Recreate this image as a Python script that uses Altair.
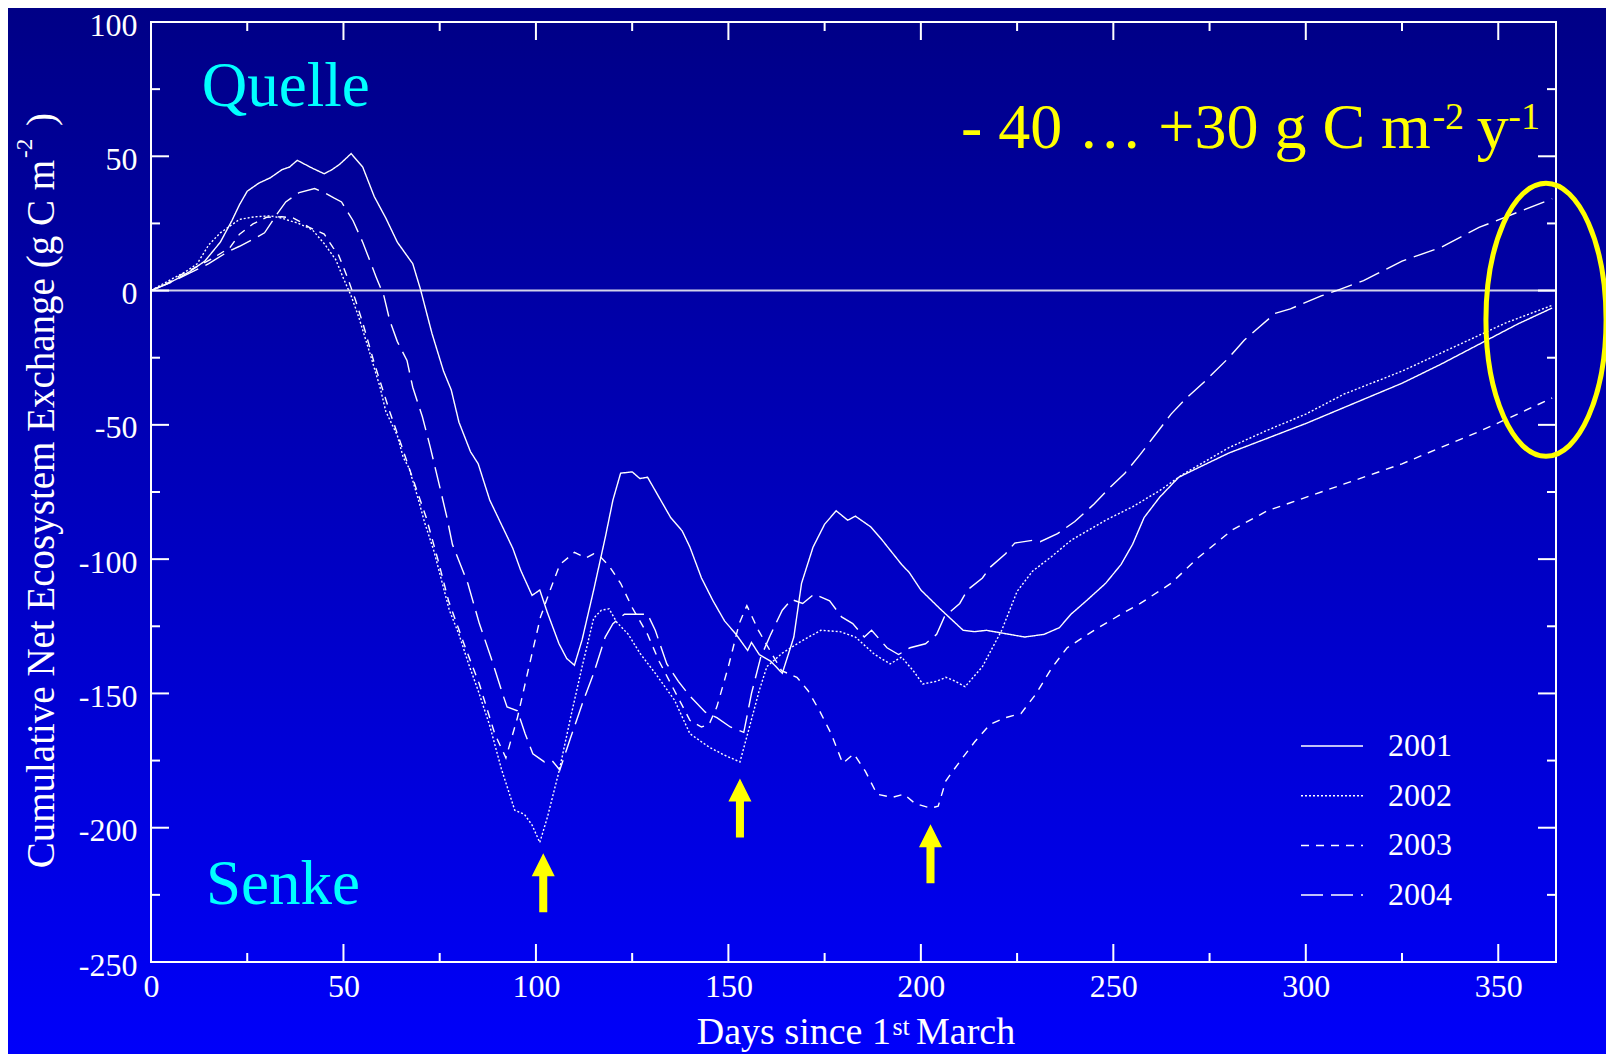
import altair as alt
import pandas as pd

# ---------------- data ----------------
years = ["2001", "2002", "2003", "2004"]

nee_2001 = [(0,0),(5,3),(10,7),(14,11),(18,18),(21,26),(23,32),(25,37),(28,40),(31,42),(34,45),(36,46),
            (38,48.5),(40,47),(42,45.5),(45,43.5),(47,45),(49,47),(52,51),(55,46),(58,35),(61,27),(64,18),
            (66,14),(68,10),(70,0.5),(73,-16),(76,-30),(78,-37),(80,-49),(83,-60),(85,-64.5),(88,-78),
            (91,-87),(94,-96),(96,-104),(99,-113.5),(101,-111.5),(103,-120),(106,-131.5),(108,-137),
            (110,-139.5),(112,-130),(115,-111.5),(118,-92),(120,-78),(122,-68),(125,-67.5),(127,-70),
            (129,-69.5),(131,-74.5),(135,-84.5),(138,-89.5),(140,-95.5),(143,-107),(146,-115.5),(149,-123),
            (152,-128),(155,-134),(156,-131),(158,-135.5),(161,-138),(164,-142.5),(167,-129),(169,-109),
            (172,-95.5),(175,-87),(178,-82),(181,-85.5),(183,-84),(187,-88),(190,-93),(195,-102),(197,-105),
            (200,-111.5),(205,-118.5),(208,-122.5),(211,-126.5),(214,-127),(217,-126.5),(221,-127.5),
            (227,-129),(232,-128),(236,-125.5),(239,-120.5),(243,-115.5),(248,-109),(252,-102),(255,-94.5),
            (258,-84.5),(262,-77),(267,-69.5),(272,-66),(280,-60.5),(290,-55),(300,-49.5),(310,-43.5),
            (325,-34.5),(335,-27.5),(345,-20),(355,-12.5),(364,-6.5)]

nee_2002 = [(0,0),(5,4),(9,7),(12,10),(15,17),(18,21.5),(20,23.5),(23,26.5),(27,27.5),(31,27.8),(34,27),
            (36,26),(38,25.2),(40.5,23.6),(42,22.5),(45,17.5),(48,11.5),(50,4.5),(52,-2),(54,-10),(57,-24),
            (59.5,-36),(61,-45),(64,-54),(65.5,-62),(67,-66),(69.5,-78),(71,-86),(73.5,-97),(75.5,-108),
            (77.5,-119),(80,-128),(82.5,-139),(85,-149),(88,-162),(91,-178),(94.5,-193.5),(97,-195),
            (99,-199),(101,-205.5),(103,-196),(106,-179),(109,-159),(112,-140),(115,-122),(117,-119),
            (119,-118.5),(121,-123.5),(124,-128),(127,-135),(131,-142.5),(136,-152.5),(140,-165),(145,-170),
            (149,-173),(153,-175.5),(155,-165),(158,-149),(160,-140),(164,-135),(169,-130.5),(174,-126.5),
            (179,-127),(183,-129),(188,-135.5),(192,-139),(195,-136.5),(198,-141.5),(200.5,-146.5),
            (204,-145.5),(206.5,-144),(209,-145.5),(211.5,-147.5),(216,-140),(221,-126.5),(225,-112),
            (229,-104.5),(234,-99),(239,-93),(248,-85.5),(255,-80.5),(262,-74.5),(268,-68.5),(280,-58.5),
            (290,-52),(300,-46),(310,-38.5),(325,-30),(340,-20),(352,-12),(364,-5.5)]

nee_2003 = [(0,0),(4,2.5),(8,6),(12,9),(16,12),(20.5,16),(23,21),(26.5,24.8),(30,27.3),(34,27.5),(37,27),
            (39.5,25),(41,23.6),(45,21),(47.3,16),(48.6,13.7),(51,5),(53,-3),(55,-12),(58,-27),(60,-36),
            (62,-45),(65.5,-59.5),(68,-70),(71.5,-84.5),(74.5,-100),(77.3,-115.5),(81.3,-131.5),
            (85.3,-146.5),(89.3,-165),(92.2,-174),(95.2,-159),(98.2,-140),(101.2,-121.5),(103.7,-111.5),
            (106.2,-102),(110,-97.5),(113,-99.5),(115,-98),(117,-99.5),(119,-102.5),(122,-109),(125,-118),
            (129,-128),(132,-138),(136,-149),(140,-160),(143,-162.5),(145,-161.5),(147,-155),(150,-140),
            (152.8,-124),(154.8,-117.3),(157.8,-126.5),(160.8,-134),(163.8,-141.5),(167.8,-144),
            (170.7,-149),(173.7,-156.5),(176.7,-165),(179.7,-176),(182.6,-172.5),(185.6,-179),
            (188.6,-187.5),(192.6,-188.7),(195.6,-187.5),(198.5,-191),(202.5,-192.7),(204.5,-192),
            (206.5,-182.5),(210.3,-175),(214,-168),(218,-161.5),(222,-159),(226,-157.5),(230,-150),
            (234,-140.5),(238,-133),(245,-126.5),(252,-120.5),(257,-116.5),(265,-109),(272,-99.5),
            (281,-89),(290,-82),(300,-77),(310,-72),(325,-64.5),(335,-58.5),(345,-52.5),(355,-46),(364,-40)]

nee_2004 = [(0,0),(5,3),(10,6.5),(15,10),(20,14.5),(23,16.5),(27,19.5),(29.5,21.5),(32.5,28),(35,33),
            (38.5,36.5),(42.5,38),(45,36.5),(47.5,34.5),(49.5,33),(52.5,26),(55,18),(58.5,5),(60.5,-2),
            (62,-11),(64,-19),(66.5,-26),(68,-36),(70.5,-47),(72.5,-58),(75,-73),(76.8,-84),(78.3,-94.5),
            (82.3,-109),(85.3,-124),(88.3,-136.5),(91.3,-150),(92.5,-155),(95.2,-156.5),(97.2,-165),
            (99.2,-172.5),(102.2,-175.5),(104.2,-175),(106.2,-178.5),(109,-166.5),(112,-154),(115,-142.5),
            (118,-129),(120,-124),(123,-120.5),(126,-120.5),(129,-120.5),(131,-126.5),(134,-139),
            (137,-145.5),(140,-151),(144,-157),(147,-159),(150.5,-162.5),(154,-164.5),(156,-150),
            (158.4,-136.5),(161,-128),(164,-119),(166.4,-115),(169.3,-116.5),(172.3,-113),(176.3,-115.5),
            (179.4,-121.5),(182.3,-124),(185.3,-129),(187.2,-126.5),(191.2,-133),(194.2,-135.5),
            (197.2,-133),(201.2,-131.5),(204.1,-128),(206.1,-121.5),(210.1,-116.5),(212.1,-111.5),
            (216,-107),(218,-103),(222,-98),(224.4,-94),(229,-93),(231,-93.5),(235.5,-90.5),(240,-86),
            (245,-79.5),(249,-73.5),(253,-68),(257,-61),(261,-53.5),(265,-46),(269,-40),(274,-33.5),
            (280,-25),(284,-18.5),(288,-13.5),(292,-8.5),(296,-6.8),(304,-2),(308,0),(315,3.7),(325,11),
            (335,16),(345,23.5),(364,34.2)]

x_major = [0, 50, 100, 150, 200, 250, 300, 350]
x_minor = [25, 75, 125, 175, 225, 275, 325]
y_major = [-250, -200, -150, -100, -50, 0, 50, 100]
y_minor = [-225, -175, -125, -75, -25, 25, 75]

zone_labels = ["Quelle", "Senke"]
zone_days = [13.2, 14.3]
zone_vals = [68.9, -228.3]

arrow_days = [101.9, 153.0, 202.5]
arrow_vals = [-220.5, -192.7, -209.7]

ellipse_day = [362.4]
ellipse_val = [-10.9]

rate_main = ["- 40 \u2026 +30 g C m"]
rate_main_day = [332.5]
rate_main_val = [52.9]
rate_sup = ["-2", "-1"]
rate_sup_day = [332.9, 352.6]
rate_sup_val = [60.3, 60.3]
rate_y = ["y"]
rate_y_day = [344.4]
rate_y_val = [52.9]

# ---------------- build ----------------
W, H = 1405, 940
PAD = {"left": 143, "top": 14, "right": 50, "bottom": 92}
FONT = "Liberation Serif"

series = {"2001": nee_2001, "2002": nee_2002, "2003": nee_2003, "2004": nee_2004}
df = pd.DataFrame([{"day": d, "nee": v, "year": yr} for yr, pts in series.items() for d, v in pts])

x_scale = alt.Scale(domain=[0, 365], nice=False, zero=False)
y_scale = alt.Scale(domain=[-250, 100], nice=False, zero=False)

x_axis = alt.Axis(values=x_major, title=None, domain=False, ticks=False, tickSize=0, grid=False,
                  labelFont=FONT, labelFontSize=32, labelColor="white", labelPadding=9,
                  labelOverlap=False, labelFlush=False, zindex=1)
y_axis = alt.Axis(values=y_major, title=None, domain=False, ticks=False, tickSize=0, grid=False,
                  labelFont=FONT, labelFontSize=32, labelColor="white", labelPadding=14,
                  labelOffset=3, labelOverlap=False, labelFlush=False, zindex=1,
                  labelExpr="'' + datum.value")


def X(field):
    return alt.X(field, type="quantitative", scale=x_scale, axis=x_axis)


def Y(field):
    return alt.Y(field, type="quantitative", scale=y_scale, axis=y_axis)


one = alt.Data(values=[{"a": 1}])

bg = alt.Chart(one).mark_rect(
    fill=alt.LinearGradient(gradient="linear", x1=0, y1=0, x2=0, y2=1,
                            stops=[alt.GradientStop(color="#000086", offset=0),
                                   alt.GradientStop(color="#0000fa", offset=1)]),
    strokeWidth=0,
).encode(x=alt.value(-PAD["left"]), x2=alt.value(W + PAD["right"]),
         y=alt.value(-PAD["top"]), y2=alt.value(H + PAD["bottom"]))

zero = alt.Chart(alt.Data(values=[{"z": 0}])).mark_rule(color="#d2d2ea", strokeWidth=2).encode(
    y=Y("z"), x=alt.value(0), x2=alt.value(W))

lines = alt.Chart(df).mark_line(color="white", strokeWidth=1.4, strokeCap="butt").encode(
    x=X("day"), y=Y("nee"),
    strokeDash=alt.StrokeDash(
        "year:N",
        scale=alt.Scale(domain=years, range=[[1, 0], [2, 2], [8, 7], [22, 8]]),
        legend=alt.Legend(orient="none", legendX=1149, legendY=704, title=None, padding=0,
                          symbolType="stroke", symbolSize=3844, symbolStrokeWidth=1.5,
                          symbolStrokeColor="white", labelFont=FONT, labelFontSize=32,
                          labelColor="white", labelOffset=24, clipHeight=40, rowPadding=9.7,
                          zindex=2),
    ),
)

ticks = []
for vals, ln in ((x_major, 18), (x_minor, 9)):
    d = alt.Data(values=[{"t": v} for v in vals])
    ticks.append(alt.Chart(d).mark_rule(color="white", strokeWidth=2).encode(
        x=X("t"), y=alt.value(H), y2=alt.value(H - ln)))
    ticks.append(alt.Chart(d).mark_rule(color="white", strokeWidth=2).encode(
        x=X("t"), y=alt.value(0), y2=alt.value(ln)))
for vals, ln in ((y_major, 18), (y_minor, 9)):
    d = alt.Data(values=[{"t": v} for v in vals])
    ticks.append(alt.Chart(d).mark_rule(color="white", strokeWidth=2).encode(
        y=Y("t"), x=alt.value(0), x2=alt.value(ln)))
    ticks.append(alt.Chart(d).mark_rule(color="white", strokeWidth=2).encode(
        y=Y("t"), x=alt.value(W), x2=alt.value(W - ln)))

frame = alt.Chart(one).mark_rect(fillOpacity=0, stroke="white", strokeWidth=2).encode(
    x=alt.value(0), x2=alt.value(W), y=alt.value(0), y2=alt.value(H))

zones = alt.Chart(pd.DataFrame({"label": zone_labels, "day": zone_days, "nee": zone_vals})).mark_text(
    align="left", baseline="alphabetic", font=FONT, fontSize=63, color="#00ffff").encode(
    x=X("day"), y=Y("nee"), text="label:N")

rate1 = alt.Chart(pd.DataFrame({"s": rate_main, "day": rate_main_day, "nee": rate_main_val})).mark_text(
    align="right", baseline="alphabetic", font=FONT, fontSize=64, color="#ffff00").encode(
    x=X("day"), y=Y("nee"), text="s:N")
rate2 = alt.Chart(pd.DataFrame({"s": rate_sup, "day": rate_sup_day, "nee": rate_sup_val})).mark_text(
    align="left", baseline="alphabetic", font=FONT, fontSize=38, color="#ffff00").encode(
    x=X("day"), y=Y("nee"), text="s:N")
rate3 = alt.Chart(pd.DataFrame({"s": rate_y, "day": rate_y_day, "nee": rate_y_val})).mark_text(
    align="left", baseline="alphabetic", font=FONT, fontSize=64, color="#ffff00").encode(
    x=X("day"), y=Y("nee"), text="s:N")

ARROW = "M0,-1L0.39,-0.22L0.136,-0.22L0.136,1L-0.136,1L-0.136,-0.22L-0.39,-0.22Z"
arrows = alt.Chart(pd.DataFrame({"day": arrow_days, "nee": arrow_vals})).mark_point(
    shape=ARROW, size=3481, filled=True, color="#ffff00", opacity=1, strokeWidth=0).encode(
    x=X("day"), y=Y("nee"))

k = 0.44
c = round(k * 0.5523, 4)
ELLIPSE = (f"M0,-1C{c},-1 {k},-0.5523 {k},0C{k},0.5523 {c},1 0,1"
           f"C{-c},1 {-k},0.5523 {-k},0C{-k},-0.5523 {-c},-1 0,-1Z")
ellipse = alt.Chart(pd.DataFrame({"day": ellipse_day, "nee": ellipse_val})).mark_point(
    shape=ELLIPSE, size=273 * 273, filled=False, color="#ffff00", strokeWidth=5, opacity=1).encode(
    x=X("day"), y=Y("nee"))

# axis titles (with superscripts) placed outside the plot area
ytitle_main = alt.Chart(one).mark_text(
    text="Cumulative Net Ecosystem Exchange (g C m", angle=270, align="right", baseline="alphabetic",
    font=FONT, fontSize=39, color="white").encode(x=alt.value(-97), y=alt.value(138))
ytitle_sup = alt.Chart(one).mark_text(
    text="-2", angle=270, align="left", baseline="alphabetic",
    font=FONT, fontSize=23, color="white").encode(x=alt.value(-119), y=alt.value(136))
ytitle_end = alt.Chart(one).mark_text(
    text=")", angle=270, align="left", baseline="alphabetic",
    font=FONT, fontSize=39, color="white").encode(x=alt.value(-97), y=alt.value(104))

xtitle_main = alt.Chart(one).mark_text(
    text="Days since 1", align="right", baseline="alphabetic",
    font=FONT, fontSize=38, color="white").encode(x=alt.value(740), y=alt.value(1022))
xtitle_sup = alt.Chart(one).mark_text(
    text="st", align="left", baseline="alphabetic",
    font=FONT, fontSize=26, color="white").encode(x=alt.value(741.5), y=alt.value(1013))
xtitle_end = alt.Chart(one).mark_text(
    text="March", align="left", baseline="alphabetic",
    font=FONT, fontSize=38, color="white").encode(x=alt.value(765), y=alt.value(1022))

chart = alt.layer(
    bg, zero, lines, *ticks, frame, zones, rate1, rate2, rate3, arrows, ellipse,
    ytitle_main, ytitle_sup, ytitle_end, xtitle_main, xtitle_sup, xtitle_end,
).properties(
    width=W, height=H, padding=PAD, autosize=alt.AutoSizeParams(type="none"), background="#0000c0",
).configure_view(strokeWidth=0)

chart.save("out.html", embed_options={"renderer": "svg", "actions": False})
